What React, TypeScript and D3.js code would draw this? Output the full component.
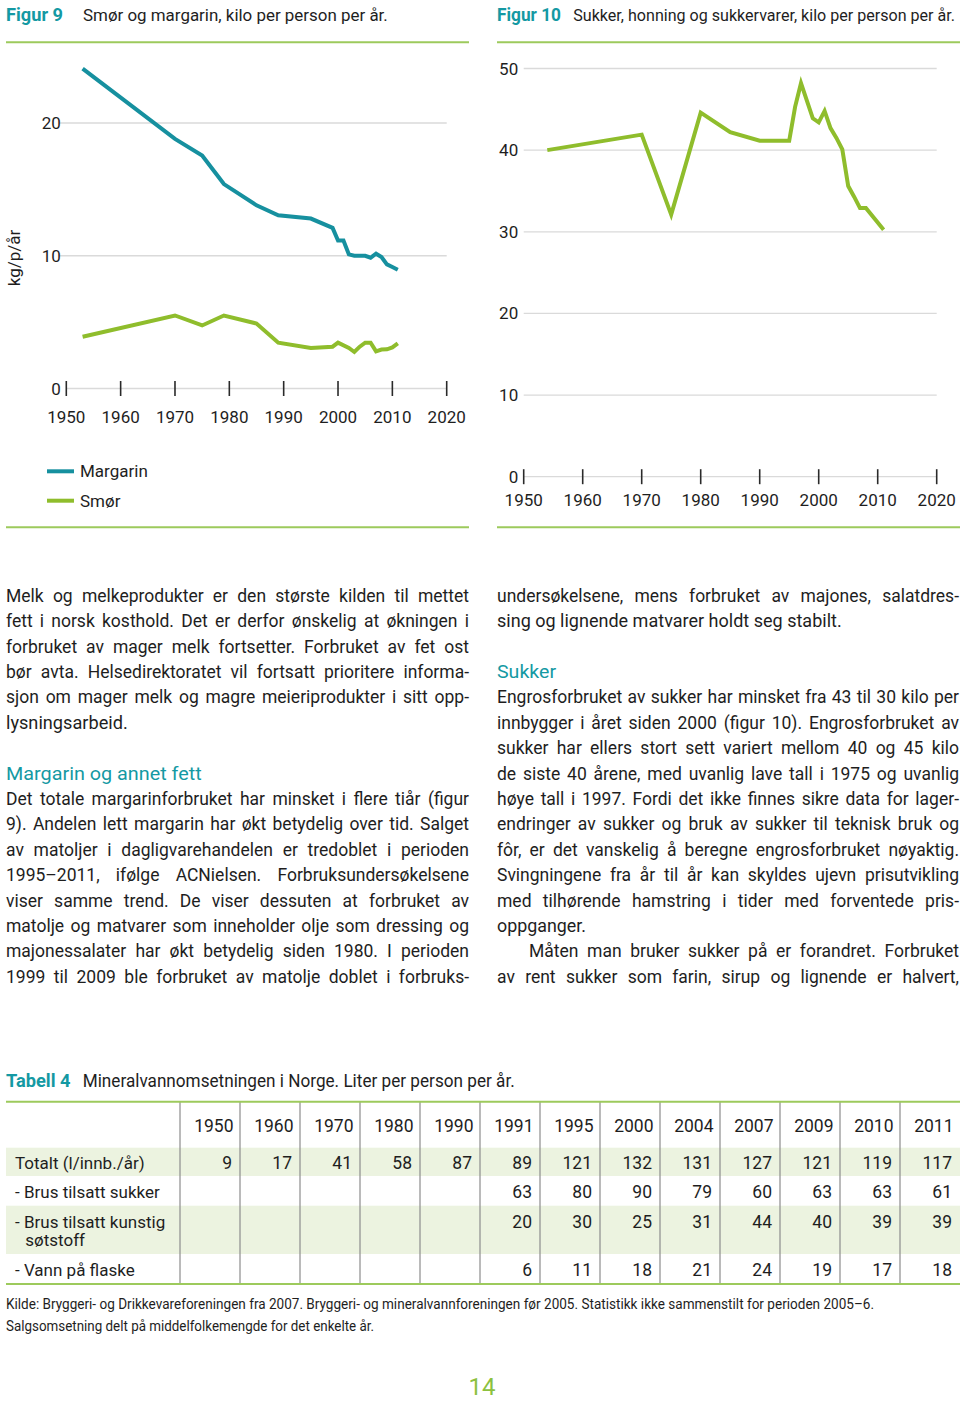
import React from 'react';
import * as d3 from 'd3';

const FONT = 'Roboto, "Noto Sans", sans-serif';

// ---------- Figur 9: Smør og margarin ----------
const margarinYears = [1953, 1970, 1975, 1979, 1985, 1989, 1995, 1999, 2000, 2001, 2002, 2003, 2005, 2006, 2007, 2008, 2009, 2010, 2011];
const margarinValues = [24.1, 18.8, 17.55, 15.4, 13.8, 13.05, 12.8, 12.1, 11.15, 11.15, 10.1, 10.0, 10.0, 9.85, 10.15, 9.9, 9.35, 9.15, 8.95];
const smorYears = [1953, 1970, 1975, 1979, 1985, 1989, 1995, 1999, 2000, 2002, 2003, 2004, 2005, 2006, 2007, 2008, 2009, 2010, 2011];
const smorValues = [3.9, 5.5, 4.75, 5.5, 4.9, 3.45, 3.05, 3.15, 3.45, 3.05, 2.75, 3.15, 3.45, 3.45, 2.8, 2.93, 2.95, 3.1, 3.4];
const fig9YTicks = [0, 10, 20];
const xTickYears = [1950, 1960, 1970, 1980, 1990, 2000, 2010, 2020];
const fig9Legend = ['Margarin', 'Smør'];

// ---------- Figur 10: Sukker ----------
const sukkerYears = [1954, 1970, 1975, 1980, 1985, 1990, 1995, 1996, 1997, 1999, 2000, 2001, 2002, 2003, 2004, 2005, 2006, 2007, 2008, 2011];
const sukkerValues = [40.0, 41.9, 32.1, 44.6, 42.2, 41.15, 41.15, 45.3, 48.2, 43.9, 43.4, 44.8, 42.7, 41.5, 40.1, 35.6, 34.3, 32.9, 32.9, 30.25];
const fig10YTicks = [0, 10, 20, 30, 40, 50];

// ---------- Tabell 4 ----------
const tableYears = ['1950', '1960', '1970', '1980', '1990', '1991', '1995', '2000', '2004', '2007', '2009', '2010', '2011'];
const rowLabels = [['Totalt (l/innb./år)'], ['- Brus tilsatt sukker'], ['- Brus tilsatt kunstig', 'søtstoff'], ['- Vann på flaske']];
const totaltValues = [9, 17, 41, 58, 87, 89, 121, 132, 131, 127, 121, 119, 117];
const brusSukkerValues = [null, null, null, null, null, 63, 80, 90, 79, 60, 63, 63, 61];
const brusKunstigValues = [null, null, null, null, null, 20, 30, 25, 31, 44, 40, 39, 39];
const vannValues = [null, null, null, null, null, 6, 11, 18, 21, 24, 19, 17, 18];
const footnotes = [
  'Kilde: Bryggeri- og Drikkevareforeningen fra 2007. Bryggeri- og mineralvannforeningen før 2005. Statistikk ikke sammenstilt for perioden 2005–6.',
  'Salgsomsetning delt på middelfolkemengde for det enkelte år.',
];

// ---------- Body text ----------
const leftPara1 = [
  'Melk og melkeprodukter er den største kilden til mettet',
  'fett i norsk kosthold. Det er derfor ønskelig at økningen i',
  'forbruket av mager melk fortsetter. Forbruket av fet ost',
  'bør avta. Helsedirektoratet vil fortsatt prioritere informa-',
  'sjon om mager melk og magre meieriprodukter i sitt opp-',
  'lysningsarbeid.',
];
const leftHeading = 'Margarin og annet fett';
const leftPara2 = [
  'Det totale margarinforbruket har minsket i flere tiår (figur',
  '9). Andelen lett margarin har økt betydelig over tid. Salget',
  'av matoljer i dagligvarehandelen er tredoblet i perioden',
  '1995–2011, ifølge ACNielsen. Forbruksundersøkelsene',
  'viser samme trend. De viser dessuten at forbruket av',
  'matolje og matvarer som inneholder olje som dressing og',
  'majonessalater har økt betydelig siden 1980. I perioden',
  '1999 til 2009 ble forbruket av matolje doblet i forbruks-',
];
const rightPara1 = [
  'undersøkelsene, mens forbruket av majones, salatdres-',
  'sing og lignende matvarer holdt seg stabilt.',
];
const rightHeading = 'Sukker';
const rightPara2 = [
  'Engrosforbruket av sukker har minsket fra 43 til 30 kilo per',
  'innbygger i året siden 2000 (figur 10). Engrosforbruket av',
  'sukker har ellers stort sett variert mellom 40 og 45 kilo',
  'de siste 40 årene, med uvanlig lave tall i 1975 og uvanlig',
  'høye tall i 1997. Fordi det ikke finnes sikre data for lager-',
  'endringer av sukker og bruk av sukker til teknisk bruk og',
  'fôr, er det vanskelig å beregne engrosforbruket nøyaktig.',
  'Svingningene fra år til år kan skyldes ujevn prisutvikling',
  'med tilhørende hamstring i tider med forventede pris-',
  'oppganger.',
];
const rightPara3 = [
  'Måten man bruker sukker på er forandret. Forbruket',
  'av rent sukker som farin, sirup og lignende er halvert,',
];
const fig9Title = 'Smør og margarin, kilo per person per år.';
const fig10Title = 'Sukker, honning og sukkervarer, kilo per person per år.';

// ---------- styling ----------
const TEAL = '#1499a3';
const TEAL_LINE = '#16909f';
const GREEN_LINE = '#8fbd2c';
const GREEN_RULE = '#9dca5c';
const GRID = '#dadada';
const TEXT = '#1e1e1e';
const BODY_SIZE = 17.5;

let _ctx: CanvasRenderingContext2D | null = null;
function measure(text: string, size: number, weight = 'normal') {
  if (!_ctx) _ctx = document.createElement('canvas').getContext('2d');
  if (!_ctx) return text.length * size * 0.48;
  _ctx.font = `${weight} ${size}px Roboto`;
  return _ctx.measureText(text).width;
}
// font size so that a text spans the given width (max = preferred size)
function fitSize(text: string, width: number, pref: number, weight = 'normal') {
  const w = measure(text, pref, weight);
  return w > width ? (pref * width) / w : pref;
}

function JustLine({ text, x0, x1, y, size = BODY_SIZE, fill = TEXT }: any) {
  const words = text.split(' ');
  const widths = words.map((w: string) => measure(w, size));
  const total = d3.sum(widths);
  const gap = words.length > 1 ? (x1 - x0 - total) / (words.length - 1) : 0;
  let x = x0;
  return (
    <text y={y} fontSize={size} fill={fill} fontFamily={FONT}>
      {words.map((w: string, i: number) => {
        const el = (
          <tspan key={i} x={x}>
            {w}
          </tspan>
        );
        x += widths[i] + gap;
        return el;
      })}
    </text>
  );
}

function Paragraph({ lines, x0, x1, startIndex, baseY, lh, continues, indentFirst = 0, lastWidth }: any) {
  return (
    <g>
      {lines.map((ln: string, i: number) => {
        const y = baseY + (startIndex + i) * lh;
        const isLast = i === lines.length - 1 && !continues;
        const xs = x0 + (i === 0 ? indentFirst : 0);
        return isLast ? (
          <text
            key={i}
            x={xs}
            y={y}
            fontSize={BODY_SIZE}
            fill={TEXT}
            fontFamily={FONT}
            textLength={lastWidth}
            lengthAdjust="spacingAndGlyphs"
          >
            {ln}
          </text>
        ) : (
          <JustLine key={i} text={ln} x0={xs} x1={x1} y={y} />
        );
      })}
    </g>
  );
}

function LineChart({ x, y, series, yTicks, gridStartOffset, tickLabelY }: any) {
  const x0 = x(1950);
  const x1 = x(2020);
  return (
    <g>
      {yTicks.map((t: number) => (
        <g key={t}>
          <line
            x1={t === 0 ? x0 : x0 - gridStartOffset}
            x2={x1}
            y1={y(t)}
            y2={y(t)}
            stroke={GRID}
            strokeWidth={1.3}
          />
          <text x={x0 - 5.5} y={y(t) + 6} textAnchor="end" fontSize={17} fill={TEXT} fontFamily={FONT}>
            {t}
          </text>
        </g>
      ))}
      {xTickYears.map((yr) => (
        <g key={yr}>
          <line x1={x(yr)} x2={x(yr)} y1={y(0) - 7.5} y2={y(0) + 7.5} stroke="#2a2a2a" strokeWidth={1.6} />
          <text x={x(yr)} y={tickLabelY} textAnchor="middle" fontSize={17} fill={TEXT} fontFamily={FONT}>
            {yr}
          </text>
        </g>
      ))}
      {series.map((s: any, i: number) => {
        const pts = s.years.map((yr: number, j: number) => [yr, s.values[j]]);
        const path = d3
          .line<number[]>()
          .x((d) => x(d[0]))
          .y((d) => y(d[1]))(pts);
        return (
          <path key={i} d={path || ''} fill="none" stroke={s.color} strokeWidth={4} strokeLinejoin="miter" strokeLinecap="butt" />
        );
      })}
    </g>
  );
}

export default function App() {
  const x9 = d3.scaleLinear().domain([1950, 2020]).range([66.3, 446.7]);
  const y9 = d3.scaleLinear().domain([0, 20]).range([388.5, 123]);
  const x10 = d3.scaleLinear().domain([1950, 2020]).range([523.7, 936.7]);
  const y10 = d3.scaleLinear().domain([0, 50]).range([476.7, 68.5]);

  const colX = d3.scaleBand<string>().domain(tableYears).range([180, 960]).padding(0);
  const tableRows = [totaltValues, brusSukkerValues, brusKunstigValues, vannValues];
  const rowBands = [
    [1147.7, 1176],
    [1176, 1205.7],
    [1205.7, 1254],
    [1254, 1284],
  ];
  const rowBaselines = [1169, 1198.3, 1227.7, 1275.7];

  const LH = 25.4;
  const BASE = 601.7;

  const t9Size = fitSize(fig9Title, 305, 18);
  const t10Size = fitSize(fig10Title, 382, 18);

  return (
    <svg
      width={960}
      height={1403}
      viewBox="0 0 960 1403"
      style={{ position: 'absolute', left: 0, top: 0, background: '#fff' }}
      fontFamily={FONT}
    >
      <rect x={0} y={0} width={960} height={1403} fill="#fff" />

      {/* ===== Figur 9 ===== */}
      <text x={6} y={20.7} fontSize={18} fontWeight="bold" fill={TEAL} textLength={57} lengthAdjust="spacingAndGlyphs">
        Figur 9
      </text>
      <text x={83} y={20.7} fontSize={t9Size} fill={TEXT}>
        {fig9Title}
      </text>
      <line x1={6} x2={469} y1={42.3} y2={42.3} stroke={GREEN_RULE} strokeWidth={2} />

      <text transform="translate(20,258) rotate(-90)" textAnchor="middle" fontSize={17} fill={TEXT}>
        kg/p/år
      </text>
      <LineChart
        x={x9}
        y={y9}
        yTicks={fig9YTicks}
        gridStartOffset={7}
        tickLabelY={422.5}
        series={[
          { years: margarinYears, values: margarinValues, color: TEAL_LINE },
          { years: smorYears, values: smorValues, color: GREEN_LINE },
        ]}
      />
      {fig9Legend.map((name, i) => (
        <g key={name}>
          <line x1={47} x2={74} y1={471.3 + i * 29.4} y2={471.3 + i * 29.4} stroke={i === 0 ? TEAL_LINE : GREEN_LINE} strokeWidth={4} />
          <text x={80} y={477.3 + i * 29.4} fontSize={17} fill={TEXT}>
            {name}
          </text>
        </g>
      ))}
      <line x1={6} x2={469} y1={527.3} y2={527.3} stroke={GREEN_RULE} strokeWidth={2} />

      {/* ===== Figur 10 ===== */}
      <text x={497} y={20.7} fontSize={18} fontWeight="bold" fill={TEAL} textLength={64} lengthAdjust="spacingAndGlyphs">
        Figur 10
      </text>
      <text x={573.3} y={20.7} fontSize={t10Size} fill={TEXT}>
        {fig10Title}
      </text>
      <line x1={497} x2={960} y1={42.3} y2={42.3} stroke={GREEN_RULE} strokeWidth={2} />
      <LineChart
        x={x10}
        y={y10}
        yTicks={fig10YTicks}
        gridStartOffset={0}
        tickLabelY={505.7}
        series={[{ years: sukkerYears, values: sukkerValues, color: GREEN_LINE }]}
      />
      <line x1={497} x2={960} y1={527.3} y2={527.3} stroke={GREEN_RULE} strokeWidth={2} />

      {/* ===== Body text ===== */}
      <Paragraph lines={leftPara1} x0={6} x1={469} startIndex={0} baseY={BASE} lh={LH} continues={false} lastWidth={121.7} />
      <text x={6} y={BASE + 7 * LH} fontSize={19} fill={TEAL} textLength={195.7} lengthAdjust="spacingAndGlyphs">
        {leftHeading}
      </text>
      <Paragraph lines={leftPara2} x0={6} x1={469} startIndex={8} baseY={BASE} lh={LH} continues={true} />

      <Paragraph lines={rightPara1} x0={497} x1={959} startIndex={0} baseY={BASE} lh={LH} continues={false} lastWidth={344.7} />
      <text x={497} y={BASE + 3 * LH} fontSize={19} fill={TEAL} textLength={59} lengthAdjust="spacingAndGlyphs">
        {rightHeading}
      </text>
      <Paragraph lines={rightPara2} x0={497} x1={959} startIndex={4} baseY={BASE} lh={LH} continues={false} lastWidth={89} />
      <Paragraph lines={rightPara3} x0={497} x1={959} startIndex={14} baseY={BASE} lh={LH} continues={true} indentFirst={32} />

      {/* ===== Tabell 4 ===== */}
      <text x={6} y={1086.7} fontSize={19} fontWeight="bold" fill={TEAL} textLength={64.5} lengthAdjust="spacingAndGlyphs">
        Tabell 4
      </text>
      <text x={82.7} y={1086.7} fontSize={18.5} fill={TEXT} textLength={432} lengthAdjust="spacingAndGlyphs">
        Mineralvannomsetningen i Norge. Liter per person per år.
      </text>

      {rowBands.map((b, i) =>
        i % 2 === 0 ? <rect key={i} x={6} y={b[0]} width={954} height={b[1] - b[0]} fill="#ecf3e0" /> : null
      )}
      {tableYears.map((yr) => (
        <line key={yr} x1={colX(yr)} x2={colX(yr)} y1={1102} y2={1284} stroke="#8c8c8c" strokeWidth={1.2} />
      ))}
      <line x1={6} x2={960} y1={1101.7} y2={1101.7} stroke={GREEN_RULE} strokeWidth={2} />
      <line x1={6} x2={960} y1={1284} y2={1284} stroke={GREEN_RULE} strokeWidth={2} />

      {tableYears.map((yr) => (
        <text key={yr} x={(colX(yr) as number) + colX.bandwidth() - 6.5} y={1131.7} textAnchor="end" fontSize={17.5} fill={TEXT}>
          {yr}
        </text>
      ))}
      {rowLabels.map((lbl, i) => (
        <g key={i}>
          <text x={15} y={rowBaselines[i]} fontSize={17} fill={TEXT}>
            {lbl[0]}
          </text>
          {lbl[1] ? (
            <text x={25.3} y={rowBaselines[i] + 18.3} fontSize={17} fill={TEXT}>
              {lbl[1]}
            </text>
          ) : null}
        </g>
      ))}
      {tableRows.map((vals, r) =>
        vals.map((v, c) =>
          v === null ? null : (
            <text
              key={`${r}-${c}`}
              x={(colX(tableYears[c]) as number) + colX.bandwidth() - 8}
              y={rowBaselines[r]}
              textAnchor="end"
              fontSize={17.5}
              fill={TEXT}
            >
              {v}
            </text>
          )
        )
      )}

      <text x={6} y={1309.3} fontSize={14.5} fill={TEXT} textLength={868} lengthAdjust="spacingAndGlyphs">
        {footnotes[0]}
      </text>
      <text x={6} y={1330.7} fontSize={14.5} fill={TEXT} textLength={368} lengthAdjust="spacingAndGlyphs">
        {footnotes[1]}
      </text>

      <text x={482} y={1395} textAnchor="middle" fontSize={24} fill="#8cc13f">
        14
      </text>
    </svg>
  );
}
